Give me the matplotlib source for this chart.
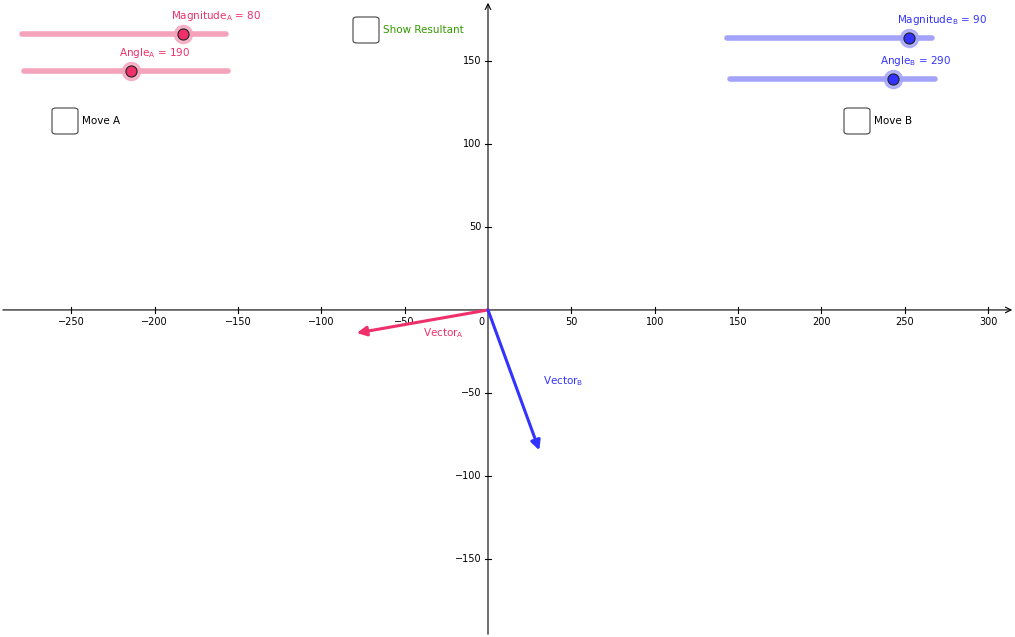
import numpy as np
import matplotlib.pyplot as plt
from matplotlib.patches import FancyBboxPatch

# data
mag_a, ang_a = 80, 190
mag_b, ang_b = 90, 290
x_ticks = [-250, -200, -150, -100, -50, 50, 100, 150, 200, 250, 300]
y_ticks = [-150, -100, -50, 50, 100, 150]
xlim = (-292.8, 316.2)
ylim = (-197.0, 186.7)

PINK = '#f0306a'
PINK_L = '#f4a3bb'
BLUE = '#3333ff'
BLUE_L = '#a3a3fb'
GREEN = '#339900'
W, H = 1015, 637

fig = plt.figure(figsize=(W / 100, H / 100), dpi=100)
ax = fig.add_axes([0, 0, 1, 1])
ax.set_xlim(*xlim)
ax.set_ylim(*ylim)
ax.axis('off')

# axes with arrows
ax.annotate('', xy=(xlim[1], 0), xytext=(xlim[0], 0),
            arrowprops=dict(arrowstyle='->', color='black', lw=0.8))
ax.annotate('', xy=(0, ylim[1]), xytext=(0, ylim[0]),
            arrowprops=dict(arrowstyle='->', color='black', lw=0.8))
tl = 2.0
for t in x_ticks:
    ax.plot([t, t], [-tl, tl], color='black', lw=0.8)
    ax.text(t, -4, str(t).replace('-', '\u2212'), ha='center', va='top', fontsize=7)
for t in y_ticks:
    ax.plot([-tl, tl], [t, t], color='black', lw=0.8)
    ax.text(-4, t, str(t).replace('-', '\u2212'), ha='right', va='center', fontsize=7)
ax.text(-2, -4, '0', ha='right', va='top', fontsize=7)

# vectors
def draw_vec(m, a, color):
    ex, ey = m * np.cos(np.radians(a)), m * np.sin(np.radians(a))
    ax.annotate('', xy=(ex, ey), xytext=(0, 0),
                arrowprops=dict(arrowstyle='-|>', color=color, lw=2.2,
                                mutation_scale=14, shrinkA=0, shrinkB=0))

draw_vec(mag_a, ang_a, PINK)
draw_vec(mag_b, ang_b, BLUE)
ax.text(-39, -14, r'Vector$_\mathregular{A}$', color=PINK, fontsize=7.5, va='center')
ax.text(33, -43, r'Vector$_\mathregular{B}$', color=BLUE, fontsize=7.5, va='center')

# slider / checkbox widgets in pixel positions
def fx(px): return px / W
def fy(py): return 1 - py / H

def slider(x0, x1, y, dot, light, dark, label, lx, ly):
    fig.add_artist(plt.Line2D([fx(x0), fx(x1)], [fy(y), fy(y)], color=light,
                              lw=4, solid_capstyle='round'))
    fig.add_artist(plt.Line2D([fx(dot)], [fy(y)], marker='o', ms=13,
                              color=light, alpha=0.8, lw=0))
    fig.add_artist(plt.Line2D([fx(dot)], [fy(y)], marker='o', ms=8,
                              color=dark, mec='#222222', mew=0.8, lw=0))
    fig.text(fx(lx), fy(ly), label, color=dark, fontsize=7.5, ha='center', va='center')

slider(22, 226, 34, 183, PINK_L, PINK, r'Magnitude$_\mathregular{A}$ = 80', 216, 16)
slider(24, 228, 71, 131, PINK_L, PINK, r'Angle$_\mathregular{A}$ = 190', 155, 53)
slider(727, 932, 38, 909, BLUE_L, BLUE, r'Magnitude$_\mathregular{B}$ = 90', 942, 20)
slider(730, 935, 79, 893, BLUE_L, BLUE, r'Angle$_\mathregular{B}$ = 290', 916, 61)

def checkbox(x, y, label, color):
    fig.add_artist(FancyBboxPatch((fx(x), fy(y + 26)), 26 / W, 26 / H,
                                  boxstyle='round,pad=0,rounding_size=0.004',
                                  fc='white', ec='#444444', lw=0.8,
                                  transform=fig.transFigure))
    fig.text(fx(x + 30), fy(y + 13), label, color=color, fontsize=7.5, va='center')

checkbox(52, 108, 'Move A', 'black')
checkbox(353, 17, 'Show Resultant', GREEN)
checkbox(844, 108, 'Move B', 'black')

fig.savefig('out.png', dpi=100)
